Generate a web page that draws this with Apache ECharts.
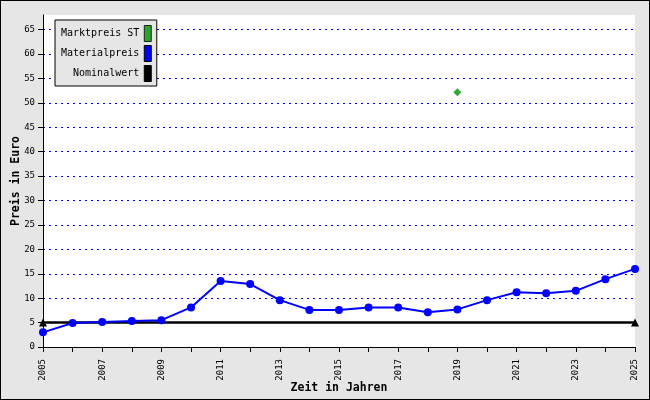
<!DOCTYPE html>
<html><head><meta charset="utf-8">
<script src="https://cdn.jsdelivr.net/npm/echarts@6/dist/echarts.min.js"></script>
<style>
html,body{margin:0;padding:0;background:#e6e6e6;}
#c{width:648px;height:398px;border:1px solid #000;}
</style></head>
<body><div id="c"></div>
<script>
const years = [2005,2006,2007,2008,2009,2010,2011,2012,2013,2014,2015,2016,2017,2018,2019,2020,2021,2022,2023,2024,2025];
const materialpreis = [3.0,4.9,5.1,5.3,5.5,8.1,13.5,12.9,9.6,7.6,7.6,8.1,8.1,7.1,7.7,9.6,11.2,11.0,11.5,13.9,16.0];
const marktpreisYears = [2019];
const marktpreis = [52.2];
const nominalYears = [2005,2025];
const nominal = [5,5];
const yTicks = [0,5,10,15,20,25,30,35,40,45,50,55,60,65];
const xLabelYears = [2005,2007,2009,2011,2013,2015,2017,2019,2021,2023,2025];

const font = '"DejaVu Sans Mono", "Liberation Mono", monospace';
const chart = echarts.init(document.getElementById('c'), null, {renderer:'canvas'});
chart.setOption({
  animation:false,
  backgroundColor:'#e6e6e6',
  textStyle:{fontFamily:font},
  grid:{left:42, right:14, top:14, bottom:52, show:true, backgroundColor:'#fff', borderWidth:0,
        containLabel:false, outerBoundsMode:'none'},
  legend:{
    orient:'vertical', left:54, top:19, align:'right',
    backgroundColor:'#e6e6e6', borderColor:'#000', borderWidth:1,
    padding:[5,5,4,6], itemGap:3, itemWidth:7, itemHeight:16, icon:'rect',
    textStyle:{fontFamily:font, fontSize:10, color:'#000'},
    data:[
      {name:'Marktpreis ST', itemStyle:{color:'#009000', borderColor:'#000', borderWidth:1}},
      {name:'Materialpreis', itemStyle:{color:'#0000ff', borderColor:'#000', borderWidth:1}},
      {name:'Nominalwert', itemStyle:{color:'#000', borderColor:'#000', borderWidth:1}}
    ]
  },
  xAxis:{
    type:'value', min:2005, max:2025, interval:1,
    name:'Zeit in Jahren', nameLocation:'middle', nameGap:35, nameMoveOverlap:false,
    nameTextStyle:{fontFamily:font, fontSize:11.5, fontWeight:'bold', color:'#000'},
    axisLine:{lineStyle:{color:'#000', width:1}},
    axisTick:{show:true, length:5, lineStyle:{color:'#000'}},
    axisLabel:{rotate:90, fontSize:9, color:'#000', margin:12, customValues:xLabelYears, formatter:v=>String(v)},
    splitLine:{show:false}
  },
  yAxis:{
    type:'value', min:0, max:68,
    name:'Preis in Euro', nameLocation:'middle', nameGap:21, nameRotate:90, nameMoveOverlap:false,
    nameTextStyle:{fontFamily:font, fontSize:11.5, fontWeight:'bold', color:'#000'},
    axisLine:{show:true, lineStyle:{color:'#000', width:1}},
    axisTick:{show:true, length:5, lineStyle:{color:'#000'}, customValues:yTicks},
    axisLabel:{fontSize:9, color:'#000', margin:8, customValues:yTicks},
    splitLine:{show:true, lineStyle:{color:'#0000ff', type:[2,4], width:1}}
  },
  series:[
    {name:'Marktpreis ST', type:'scatter', symbol:'diamond', symbolSize:8,
     itemStyle:{color:'#009000'},
     data:marktpreisYears.map((y,i)=>[y,marktpreis[i]]), z:5},
    {name:'Materialpreis', type:'line', symbol:'circle', symbolSize:8, showAllSymbol:true,
     lineStyle:{color:'#0000ff', width:2}, itemStyle:{color:'#0000ff'},
     data:years.map((y,i)=>[y,materialpreis[i]]), z:4},
    {name:'Nominalwert', type:'line', symbol:'triangle', symbolSize:8,
     lineStyle:{color:'#000', width:2.5}, itemStyle:{color:'#000'},
     data:nominalYears.map((y,i)=>[y,nominal[i]]), z:3}
  ]
});
</script>
</body></html>
